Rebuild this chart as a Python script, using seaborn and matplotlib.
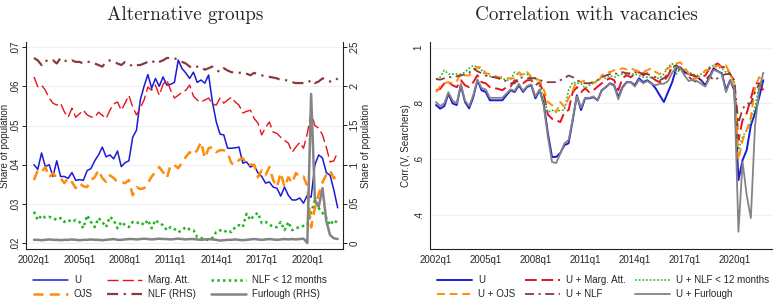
import numpy as np
import pandas as pd
import matplotlib
matplotlib.use('Agg')
import matplotlib.pyplot as plt
import seaborn as sns

# x-axis: quarters from 2002q1
tick_pos = [0, 12, 24, 36, 48, 60, 72]
tick_labels = ['2002q1', '2005q1', '2008q1', '2011q1', '2014q1', '2017q1', '2020q1']

# ---- left panel: shares of population (2002q1 - 2022q1) ----
u_share = [.040, .0388, .043, .0395, .040, .037, .041, .037, .037, .0365,
           .038, .036, .0362, .036, .0385, .039, .041, .0425, .0445, .042,
           .0425, .0415, .0435, .0395, .0405, .041, .047, .0488, .0565, .060,
           .063, .0595, .062, .060, .0624, .0603, .0605, .061, .0667, .0645,
           .0634, .062, .0636, .061, .0616, .0608, .0629, .056, .051, .0478,
           .0476, .0442, .0442, .0443, .0445, .0404, .0407, .0394, .0399, .0379,
           .037, .0353, .0356, .0343, .034, .032, .0343, .0322, .031, .031,
           .0315, .0302, .0322, .0317, .040, .0425, .0417, .038, .0373, .0335,
           .029]
marg_share = [.0624, .0599, .0603, .059, .057, .0557, .0552, .0557, .0535, .0521,
              .0544, .0521, .053, .0539, .0527, .0522, .0521, .0534, .0526, .0518,
              .0539, .0555, .056, .0539, .0557, .0577, .0547, .0527, .0545, .0565,
              .0598, .059, .0603, .0577, .0605, .0616, .059, .057, .0577, .0585,
              .059, .0603, .0575, .0565, .056, .0565, .057, .0555, .0552, .057,
              .0557, .0565, .0572, .056, .0552, .0532, .0536, .0539, .0518, .0506,
              .0476, .0495, .0509, .0483, .048, .047, .0462, .0455, .0432, .0445,
              .0457, .0442, .048, .0532, .050, .0493, .0476, .0445, .0407, .041,
              .0432]
ojs_share = [.0361, .0386, .0381, .0394, .0368, .0379, .0366, .0366, .0353, .0366,
             .0356, .034, .0353, .0345, .0343, .0361, .0368, .0386, .0366, .0356,
             .0373, .0366, .0356, .0356, .0353, .0361, .0322, .0343, .0338, .034,
             .0353, .037, .0381, .0394, .0381, .0366, .0399, .0399, .0391, .0405,
             .042, .0432, .0425, .0437, .0458, .0417, .0442, .0445, .0432, .0437,
             .0437, .043, .0404, .040, .0412, .0417, .040, .040, .040, .0368,
             .0386, .0373, .0394, .0361, .0343, .0379, .0343, .0368, .0353, .0379,
             .0368, .037, .0345, .024, .029, .0325, .0355, .0375, .0385, .0365,
             .0375]
nlf12_share = [.028, .0259, .0271, .0265, .0267, .0264, .0259, .0264, .0254, .0259,
               .0254, .0259, .0254, .0238, .0271, .0254, .0241, .0264, .0254, .0241,
               .0267, .0259, .0238, .0254, .0246, .0241, .0254, .0251, .0254, .0246,
               .0259, .0238, .0259, .025, .0246, .0233, .0241, .0236, .0228, .0233,
               .0241, .0235, .0233, .0215, .0213, .021, .0208, .0213, .0228, .0233,
               .0228, .0233, .0228, .0241, .0246, .0241, .0275, .0259, .0271, .0277,
               .0251, .0254, .0248, .0241, .0241, .0254, .0233, .0254, .0233, .0238,
               .0241, .0244, .0246, .0277, .031, .0289, .0277, .0265, .0246, .0259,
               .0251]
# right-hand-side series
nlf_share = [.236, .233, .227, .233, .231, .233, .229, .236, .233, .231,
             .233, .231, .231, .229, .231, .231, .229, .227, .225, .231,
             .233, .231, .229, .227, .231, .229, .225, .227, .227, .229,
             .231, .233, .229, .231, .233, .236, .236, .236, .233, .231,
             .229, .225, .223, .225, .225, .221, .223, .225, .221, .218,
             .223, .22, .218, .217, .217, .218, .216, .214, .217, .215,
             .214, .212, .212, .211, .21, .208, .208, .207, .205, .204,
             .204, .204, .204, .208, .204, .206, .21, .209, .206, .206,
             .21]
furl_share = [.004, .004, .0035, .004, .0045, .004, .004, .0035, .004, .004,
              .0045, .004, .0035, .004, .004, .0045, .004, .004, .0035, .004,
              .0045, .005, .004, .004, .0045, .005, .005, .0045, .005, .0055,
              .005, .0045, .005, .0055, .005, .005, .0045, .005, .0055, .005,
              .0045, .005, .005, .0045, .004, .0045, .005, .0045, .004, .003,
              .0035, .004, .004, .0045, .004, .0035, .004, .0045, .005, .0045,
              .004, .0045, .005, .0045, .004, .0045, .005, .0045, .005, .0045,
              .005, .0055, .0, .19, .055, .046, .07, .028, .01, .006,
              .005]

# ---- right panel: correlation with vacancies (2002q1 - 2021q4) ----
c_u = [.794, .781, .79, .835, .80, .794, .865, .805, .782, .823,
       .883, .847, .841, .811, .811, .811, .811, .829, .847, .841,
       .865, .841, .859, .865, .818, .847, .80, .693, .608, .608,
       .622, .65, .657, .74, .829, .776, .818, .818, .822, .811,
       .847, .858, .872, .865, .822, .858, .876, .876, .865, .89,
       .876, .883, .872, .854, .829, .805, .84, .876, .926, .929,
       .912, .905, .901, .894, .883, .865, .894, .926, .915, .908,
       .847, .883, .847, .525, .597, .633, .722, .765, .822, .883]
c_marg = [.847, .852, .872, .876, .865, .858, .883, .865, .858, .876,
          .901, .876, .872, .858, .855, .852, .847, .858, .86, .883,
          .876, .872, .883, .883, .865, .875, .836, .76, .745, .74,
          .733, .768, .776, .84, .858, .84, .854, .84, .847, .86,
          .872, .883, .89, .883, .847, .89, .901, .894, .905, .912,
          .901, .908, .894, .883, .876, .88, .90, .93, .936, .926,
          .912, .905, .901, .894, .894, .90, .925, .936, .943, .93,
          .93, .905, .88, .668, .74, .765, .818, .872, .872, .847]
c_nlf12 = [.887, .894, .919, .905, .905, .905, .905, .912, .926, .936,
           .93, .919, .90, .897, .894, .89, .89, .883, .885, .912,
           .90, .905, .905, .883, .894, .86, .818, .768, .776, .768,
           .776, .776, .847, .876, .872, .872, .854, .865, .872, .883,
           .894, .89, .90, .894, .90, .905, .905, .905, .905, .90,
           .894, .894, .892, .89, .89, .905, .93, .943, .905, .926,
           .92, .912, .905, .90, .905, .915, .93, .936, .93, .926,
           .912, .905, .88, .633, .68, .704, .733, .787, .865, .876]
c_ojs = [.84, .86, .872, .876, .872, .88, .908, .90, .90, .915,
         .93, .93, .908, .905, .90, .894, .894, .89, .89, .89,
         .912, .90, .912, .894, .89, .883, .85, .805, .794, .768,
         .805, .787, .818, .847, .883, .876, .883, .872, .876, .872,
         .90, .912, .912, .919, .919, .926, .922, .926, .919, .915,
         .912, .919, .926, .912, .905, .915, .926, .936, .943, .947,
         .93, .905, .89, .89, .90, .919, .919, .93, .936, .93,
         .936, .905, .87, .597, .668, .704, .75, .858, .894, .876]
c_nlf = [.887, .885, .89, .894, .894, .897, .90, .905, .91, .926,
         .915, .908, .90, .894, .894, .89, .883, .88, .872, .872,
         .894, .892, .89, .89, .89, .883, .88, .876, .876, .876,
         .883, .89, .90, .894, .883, .876, .872, .872, .876, .883,
         .894, .90, .905, .908, .905, .912, .908, .908, .912, .908,
         .908, .905, .90, .894, .883, .89, .905, .93, .936, .917,
         .905, .895, .883, .876, .88, .883, .90, .883, .89, .90,
         .905, .905, .883, .73, .78, .80, .80, .84, .87, .85]
c_furl = [.805, .79, .80, .84, .81, .80, .87, .81, .79, .83,
          .885, .855, .85, .82, .82, .82, .82, .835, .85, .845,
          .87, .845, .862, .868, .825, .85, .79, .68, .59, .586,
          .62, .657, .668, .745, .825, .785, .82, .82, .825, .81,
          .845, .86, .87, .862, .815, .855, .875, .876, .86, .885,
          .872, .88, .87, .865, .87, .87, .88, .91, .93, .925,
          .90, .88, .885, .88, .87, .86, .89, .92, .915, .905,
          .84, .88, .856, .34, .59, .47, .389, .72, .85, .91]

left = pd.DataFrame({'q': np.arange(len(u_share)), 'U': u_share, 'Marg': marg_share,
                     'OJS': ojs_share, 'NLF12': nlf12_share, 'NLF': nlf_share,
                     'Furl': furl_share})
right = pd.DataFrame({'q': np.arange(len(c_u)), 'U': c_u, 'Marg': c_marg, 'NLF12': c_nlf12,
                      'OJS': c_ojs, 'NLF': c_nlf, 'Furl': c_furl})

sns.set_style('white')
plt.rcParams['font.family'] = ['Liberation Sans', 'DejaVu Sans']
FS = 7.0

BLUE = '#1a1ad6'
RED = '#e8121c'
ORANGE = '#ff8c0a'
GREEN = '#1fb51f'
MAROON = '#8a3a3c'
GREY = '#848484'

fig = plt.figure(figsize=(7.74, 3.01), dpi=100)
ax1 = fig.add_axes([26 / 774, 52 / 301, 317 / 774, 207 / 301])
ax3 = fig.add_axes([430 / 774, 52 / 301, 342 / 774, 207 / 301])

# left panel
sns.lineplot(data=left, x='q', y='U', ax=ax1, color=BLUE, lw=1.1, label='U')
sns.lineplot(data=left, x='q', y='Marg', ax=ax1, color=RED, lw=1.0,
             linestyle=(0, (8, 3)), label='Marg. Att.')
sns.lineplot(data=left, x='q', y='NLF12', ax=ax1, color=GREEN, lw=1.8,
             linestyle=(0, (1, 1.3)), label='NLF < 12 months')
sns.lineplot(data=left, x='q', y='OJS', ax=ax1, color=ORANGE, lw=1.8,
             linestyle=(0, (4, 2.5)), label='OJS')
ax2 = ax1.twinx()
sns.lineplot(data=left, x='q', y='NLF', ax=ax2, color=MAROON, lw=1.6,
             linestyle=(0, (5, 2.5, 1, 2.5)), label='NLF (RHS)')
sns.lineplot(data=left, x='q', y='Furl', ax=ax2, color=GREY, lw=1.8,
             label='Furlough (RHS)')

ax1.set_xlim(-2.1, 81.4)
ax1.set_ylim(0.0185, 0.0713)
ax2.set_ylim(-0.0077, 0.2564)
ax1.set_yticks([.02, .03, .04, .05, .06, .07])
ax1.set_yticklabels(['.02', '.03', '.04', '.05', '.06', '.07'], rotation=90, va='center')
ax2.set_yticks([0, .05, .1, .15, .2, .25])
ax2.set_yticklabels(['0', '.05', '.1', '.15', '.2', '.25'], rotation=90, va='center')
ax1.set_ylabel('Share of population', fontsize=FS)
ax1.yaxis.set_label_coords(-0.049, 0.5)
ax2.set_ylabel('Share of population', fontsize=FS, labelpad=1.5)
ax1.grid(axis='y', color='#eef0f2', lw=0.8)

# right panel
sns.lineplot(data=right, x='q', y='U', ax=ax3, color=BLUE, lw=1.4, label='U')
sns.lineplot(data=right, x='q', y='Marg', ax=ax3, color=RED, lw=1.4,
             linestyle=(0, (6, 2.5)), label='U + Marg. Att.')
sns.lineplot(data=right, x='q', y='NLF12', ax=ax3, color=GREEN, lw=1.1,
             linestyle=(0, (1.2, 1.2)), label='U + NLF < 12 months')
sns.lineplot(data=right, x='q', y='OJS', ax=ax3, color=ORANGE, lw=1.4,
             linestyle=(0, (4, 2.5)), label='U + OJS')
sns.lineplot(data=right, x='q', y='NLF', ax=ax3, color=MAROON, lw=1.3,
             linestyle=(0, (5, 2.5, 1.2, 2.5)), label='U + NLF')
sns.lineplot(data=right, x='q', y='Furl', ax=ax3, color=GREY, lw=1.3,
             label='U + Furlough')
ax3.set_xlim(-1.45, 81.1)
ax3.set_ylim(0.278, 1.02)
ax3.set_yticks([.4, .6, .8, 1])
ax3.set_yticklabels(['.4', '.6', '.8', '1'], rotation=90, va='center')
ax3.set_ylabel('Corr.(V, Searchers)', fontsize=FS, labelpad=2)
ax3.grid(axis='y', color='#eef0f2', lw=0.8)

for ax in (ax1, ax3):
    ax.set_xticks(tick_pos)
    ax.set_xticklabels(tick_labels)
    ax.set_xlabel('')
    for s in ('top', 'right'):
        ax.spines[s].set_visible(False)
    for s in ('left', 'bottom'):
        ax.spines[s].set_color('#222222')
        ax.spines[s].set_linewidth(0.8)
for ax in (ax1, ax2, ax3):
    ax.tick_params(axis='both', labelsize=FS, length=3, width=0.7, color='#222222',
                   direction='out', pad=1.5)
    if ax.get_legend() is not None:
        ax.get_legend().remove()
ax2.spines['top'].set_visible(False)
ax2.spines['left'].set_visible(False)
ax2.spines['bottom'].set_visible(False)
ax2.spines['right'].set_color('#222222')
ax2.spines['right'].set_linewidth(0.8)

# legends (3 columns, filled column-wise)
h1 = {l.get_label(): l for l in ax1.get_lines() + ax2.get_lines()}
order1 = ['U', 'OJS', 'Marg. Att.', 'NLF (RHS)', 'NLF < 12 months', 'Furlough (RHS)']
fig.legend([h1[k] for k in order1], order1, loc='upper left', ncol=3,
           bbox_to_anchor=(33 / 774, 1 - 275 / 301), frameon=False, fontsize=FS,
           handlelength=3.6, handletextpad=0.6, columnspacing=1.5, labelspacing=0.45,
           borderpad=0, borderaxespad=0)
h3 = {l.get_label(): l for l in ax3.get_lines()}
order3 = ['U', 'U + OJS', 'U + Marg. Att.', 'U + NLF', 'U + NLF < 12 months', 'U + Furlough']
fig.legend([h3[k] for k in order3], order3, loc='upper left', ncol=3,
           bbox_to_anchor=(437 / 774, 1 - 275 / 301), frameon=False, fontsize=FS,
           handlelength=3.6, handletextpad=0.6, columnspacing=1.0, labelspacing=0.45,
           borderpad=0, borderaxespad=0)

fig.text(185 / 774, 1 - 15 / 301, 'Alternative groups', ha='center', va='center',
         fontsize=13.8, family=['cmr10', 'DejaVu Serif'])
fig.text(586 / 774, 1 - 15 / 301, 'Correlation with vacancies', ha='center', va='center',
         fontsize=13.8, family=['cmr10', 'DejaVu Serif'])

fig.savefig('out.png', dpi=100)
